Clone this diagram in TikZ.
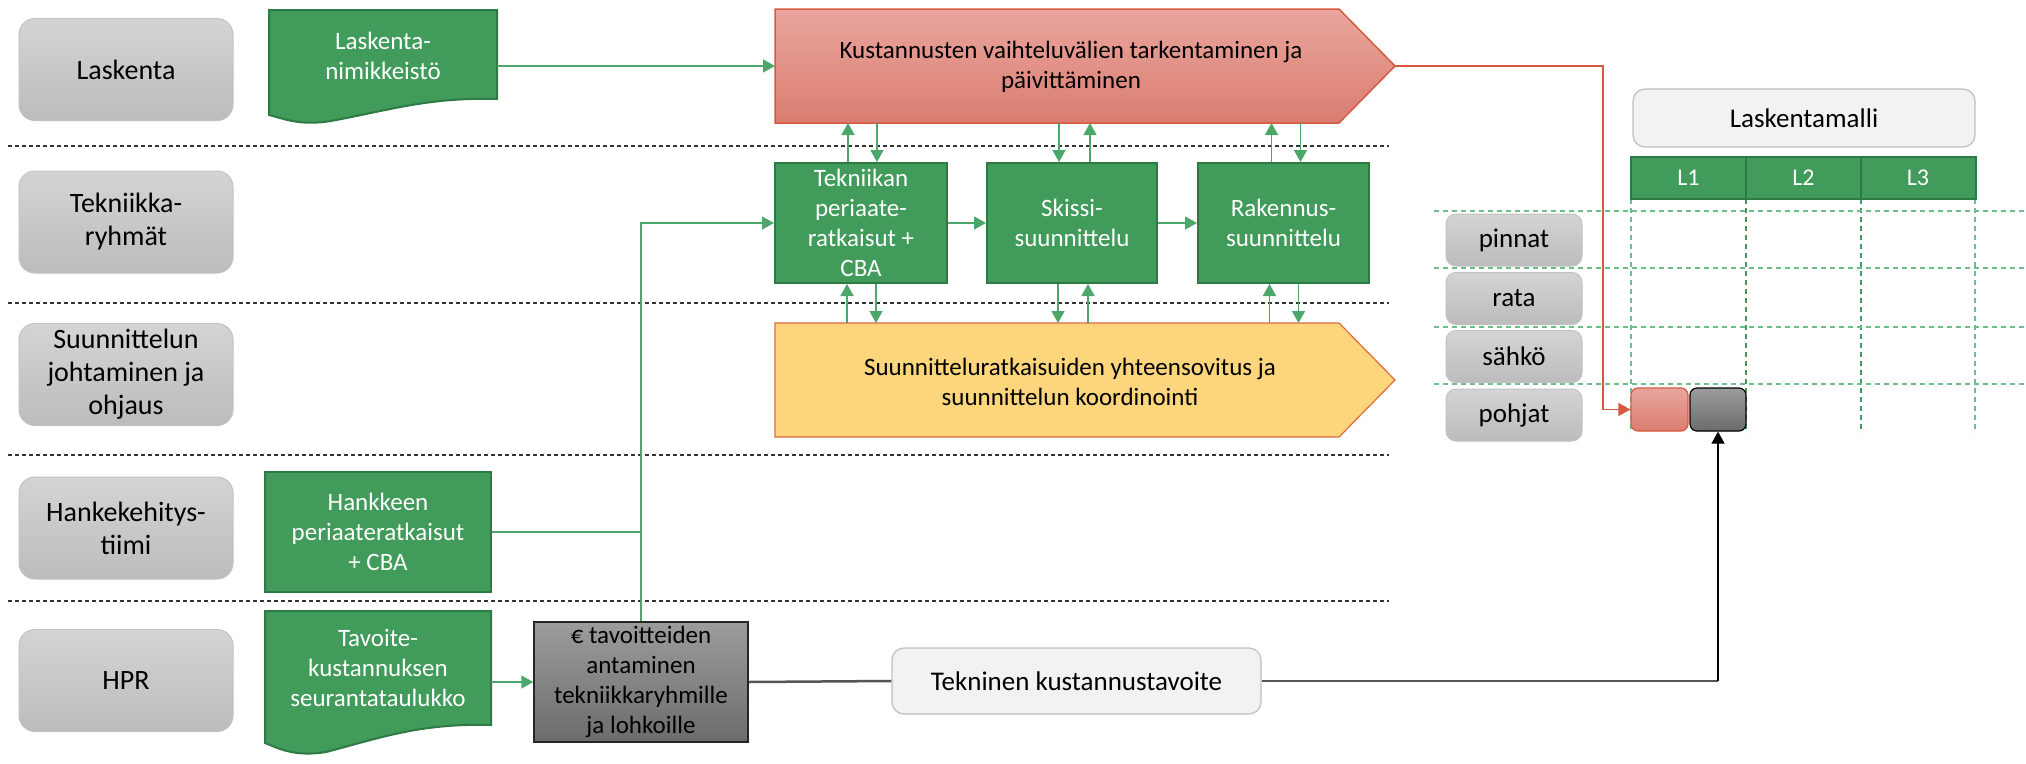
\documentclass[tikz,border=0pt]{standalone}
\usepackage{fontspec}
\setmainfont{Carlito}
\usetikzlibrary{arrows.meta,calc}
\definecolor{gfill}{HTML}{419B5A}
\definecolor{gbord}{HTML}{2E7A44}
\definecolor{gln}{HTML}{4CA86A}
\definecolor{laneT}{HTML}{D4D4D4}
\definecolor{laneB}{HTML}{BCBCBC}
\definecolor{laneBd}{HTML}{C2C2C2}
\definecolor{redT}{HTML}{E9A69E}
\definecolor{redB}{HTML}{DB7D70}
\definecolor{redBd}{HTML}{D65A40}
\definecolor{yelF}{HTML}{FDD57C}
\definecolor{yelBd}{HTML}{E06A3E}
\definecolor{grayT}{HTML}{9C9C9C}
\definecolor{grayB}{HTML}{6C6C6C}
\definecolor{lightF}{HTML}{F2F2F2}
\definecolor{lightBd}{HTML}{BFBFBF}
\definecolor{gdash}{HTML}{6DBF8A}
\definecolor{gdashd}{HTML}{3F9B5A}
\definecolor{dgline}{HTML}{555555}
\tikzset{
  lane/.style={draw=laneBd, line width=1pt, rounded corners=16pt, top color=laneT, bottom color=laneB,
    minimum width=214pt, minimum height=102pt, inner sep=0pt, align=center, font=\fontsize{28}{33}\selectfont},
  rowlabel/.style={draw=laneBd, line width=1pt, rounded corners=10pt, top color=laneT, bottom color=laneB,
    minimum width=136pt, minimum height=52pt, inner sep=0pt, align=center, font=\fontsize{27}{32}\selectfont},
  gbox/.style={draw=gbord, line width=2pt, fill=gfill, text=white, align=center, inner sep=0pt,
    font=\fontsize{25}{30}\selectfont},
  doctext/.style={text=white, align=center, inner sep=0pt, font=\fontsize{25}{30}\selectfont},
  gdoc/.style={draw=gbord, line width=2pt, fill=gfill},
  redchev/.style={draw=redBd, line width=1.5pt, top color=redT, bottom color=redB},
  yelchev/.style={draw=yelBd, line width=1.2pt, fill=yelF},
  ctext/.style={align=center, inner sep=0pt, font=\fontsize{25}{30}\selectfont},
  ebox/.style={draw=black!85, line width=1.5pt, top color=grayT, bottom color=grayB, align=center, inner sep=0pt,
    minimum width=214pt, minimum height=120pt, font=\fontsize{25}{30}\selectfont},
  lbox/.style={draw=lightBd, line width=1.2pt, fill=lightF, rounded corners=12pt, align=center, inner sep=0pt,
    font=\fontsize{27}{32}\selectfont},
  hcell/.style={draw=gbord, line width=2pt, fill=gfill, text=white, inner sep=0pt,
    minimum width=115pt, minimum height=42pt, font=\fontsize{24}{28}\selectfont},
  lanesep/.style={draw=black!80, line width=1.3pt, dash pattern=on 4pt off 3pt},
  gdashed/.style={draw=gdash, line width=1.1pt, dash pattern=on 5pt off 4pt},
  gdashedd/.style={draw=gdashd, line width=1.1pt, dash pattern=on 5pt off 4pt},
  gline/.style={draw=gln, line width=1.5pt},
  garrow/.style={draw=gln, line width=1.5pt, -{Triangle[length=12pt,width=13pt]}},
  rarrow/.style={draw=redBd, line width=1.5pt, -{Triangle[length=12pt,width=13pt]}},
  barrow/.style={draw=black, line width=1.2pt, -{Triangle[length=12pt,width=13pt]}},
  dline/.style={draw=dgline, line width=2.5pt},
  rsqs/.style={draw=redBd, line width=1.2pt, rounded corners=7pt, top color=redT, bottom color=redB,
    minimum width=57pt, minimum height=43pt, inner sep=0pt},
  gsqs/.style={draw=black, line width=1.2pt, rounded corners=7pt, top color=grayT, bottom color=grayB,
    minimum width=56pt, minimum height=43pt, inner sep=0pt}
}
\begin{document}
\begin{tikzpicture}[x=1pt,y=-1pt]
\useasboundingbox (0,0) rectangle (2026,763);
\fill[white] (0,0) rectangle (2026,763);

% lane separators
\foreach \yy in {146,303,455,601} \draw[lanesep] (8,\yy) -- (1389,\yy);

% lane labels
\node[lane] (lLas) at (126,69.5) {Laskenta};
\node[lane] (lTek) at (126,222) {Tekniikka-\\ryhmät};
\node[lane] (lSuu) at (126,374.5) {Suunnittelun\\johtaminen ja\\ohjaus};
\node[lane] (lHan) at (126,528) {Hankekehitys-\\tiimi};
\node[lane] (lHPR) at (126,680.5) {HPR};

% document shapes
\path[gdoc] (269,10) -- (497,10) -- (497,99) .. controls (430,97) and (390,110) .. (331,121)
  .. controls (300,126) and (285,119) .. (269,115) -- cycle;
\node[doctext, minimum width=228pt, minimum height=89pt] (lnim) at (383,56) {Laskenta-\\nimikkeistö};

\path[gdoc] (265,611) -- (491,611) -- (491,725) .. controls (420,723) and (380,738) .. (326,752)
  .. controls (295,757) and (280,749) .. (265,743) -- cycle;
\node[doctext, minimum width=226pt, minimum height=114pt] (tav) at (378,668) {Tavoite-\\kustannuksen\\seurantataulukko};

\node[gbox, minimum width=226pt, minimum height=120pt] (hank) at (378,532) {Hankkeen\\periaateratkaisut\\+ CBA};

% chevrons
\path[redchev] (775,9) -- (1339,9) -- (1395,66) -- (1339,123) -- (775,123) -- cycle;
\node[ctext] (kust) at (1071,67) {Kustannusten vaihteluvälien tarkentaminen ja\\päivittäminen};
\coordinate (ktip) at (1395,66);
\coordinate (kleft) at (775,66);
\coordinate (kbot) at (1057,123);

\path[yelchev] (775,323) -- (1339,323) -- (1395,380) -- (1339,437) -- (775,437) -- cycle;
\node[ctext] (suun) at (1070,382) {Suunnitteluratkaisuiden yhteensovitus ja\\suunnittelun koordinointi};
\coordinate (ytop) at (1057,323);

% green process boxes
\node[gbox, minimum width=172pt, minimum height=120pt] (tek) at (861,223) {Tekniikan\\periaate-\\ratkaisut +\\CBA};
\node[gbox, minimum width=170pt, minimum height=120pt] (sk) at (1072,223) {Skissi-\\suunnittelu};
\node[gbox, minimum width=171pt, minimum height=120pt] (rak) at (1283.5,223) {Rakennus-\\suunnittelu};

% euro box and target
\node[ebox] (euro) at (641,682) {€ tavoitteiden\\antaminen\\tekniikkaryhmille\\ja lohkoille};
\node[lbox, minimum width=369pt, minimum height=66pt] (tekn) at (1076.5,681) {Tekninen kustannustavoite};

% Laskentamalli grid
\draw[gdashed] (1631,199) -- (1631,433);
\foreach \xx in {1746,1861} \draw[gdashedd] (\xx,199) -- (\xx,433);
\draw[gdashed] (1975,199) -- (1975,433);
\foreach \yy in {211,268,327,384} \draw[gdashed] (1434,\yy) -- (2026,\yy);
\node[lbox, minimum width=342pt, minimum height=58pt] (lmal) at (1804,118) {Laskentamalli};
\node[hcell] (hL1) at (1688.5,178) {L1};
\node[hcell] (hL2) at (1803.5,178) {L2};
\node[hcell] (hL3) at (1918,178) {L3};
\node[rowlabel] (rPin) at (1514,240) {pinnat};
\node[rowlabel] (rRat) at (1514,298.5) {rata};
\node[rowlabel] (rSah) at (1514,356.5) {sähkö};
\node[rowlabel] (rPoh) at (1514,415) {pohjat};
\node[rsqs] (rsq) at (1659.5,409.5) {};
\node[gsqs] (gsq) at (1718,409.5) {};

% connectors
\draw[garrow] (lnim.east |- kleft) -- (kleft);
\draw[garrow] (tav.east |- euro.west) -- (euro.west);
\draw[garrow] (euro.north) |- (tek.west);
\draw[gline] (hank.east) -- (hank.east -| euro.north);
\draw[garrow] (tek.east) -- (sk.west);
\draw[garrow] (sk.east) -- (rak.west);

% upper vertical arrows
\draw[garrow] ([xshift=-13pt]tek.north) -- ([xshift=-13pt]tek.north |- kbot);
\draw[garrow] ([xshift=16pt]tek.north |- kbot) -- ([xshift=16pt]tek.north);
\draw[garrow] ([xshift=-13pt]sk.north |- kbot) -- ([xshift=-13pt]sk.north);
\draw[garrow] ([xshift=18pt]sk.north) -- ([xshift=18pt]sk.north |- kbot);
\draw[garrow] ([xshift=-12pt]rak.north) -- ([xshift=-12pt]rak.north |- kbot);
\draw[garrow] ([xshift=17pt]rak.north |- kbot) -- ([xshift=17pt]rak.north);

% lower vertical arrows
\draw[garrow] ([xshift=-14pt]tek.south |- ytop) -- ([xshift=-14pt]tek.south);
\draw[garrow] ([xshift=15pt]tek.south) -- ([xshift=15pt]tek.south |- ytop);
\draw[garrow] ([xshift=-14pt]sk.south) -- ([xshift=-14pt]sk.south |- ytop);
\draw[garrow] ([xshift=16pt]sk.south |- ytop) -- ([xshift=16pt]sk.south);
\draw[garrow] ([xshift=-14pt]rak.south |- ytop) -- ([xshift=-14pt]rak.south);
\draw[garrow] ([xshift=15pt]rak.south) -- ([xshift=15pt]rak.south |- ytop);

% red connector to model
\coordinate (rbend) at (1603,66);
\draw[rarrow] (ktip) -- (rbend) |- (rsq.west);

% cost target connector
\coordinate (corner) at (gsq.south |- tekn.east);
\draw[dline] (euro.east) -- (tekn.west);
\draw[dline] (tekn.east) -- (corner);
\draw[barrow] (corner) -- (gsq.south);
\end{tikzpicture}
\end{document}
